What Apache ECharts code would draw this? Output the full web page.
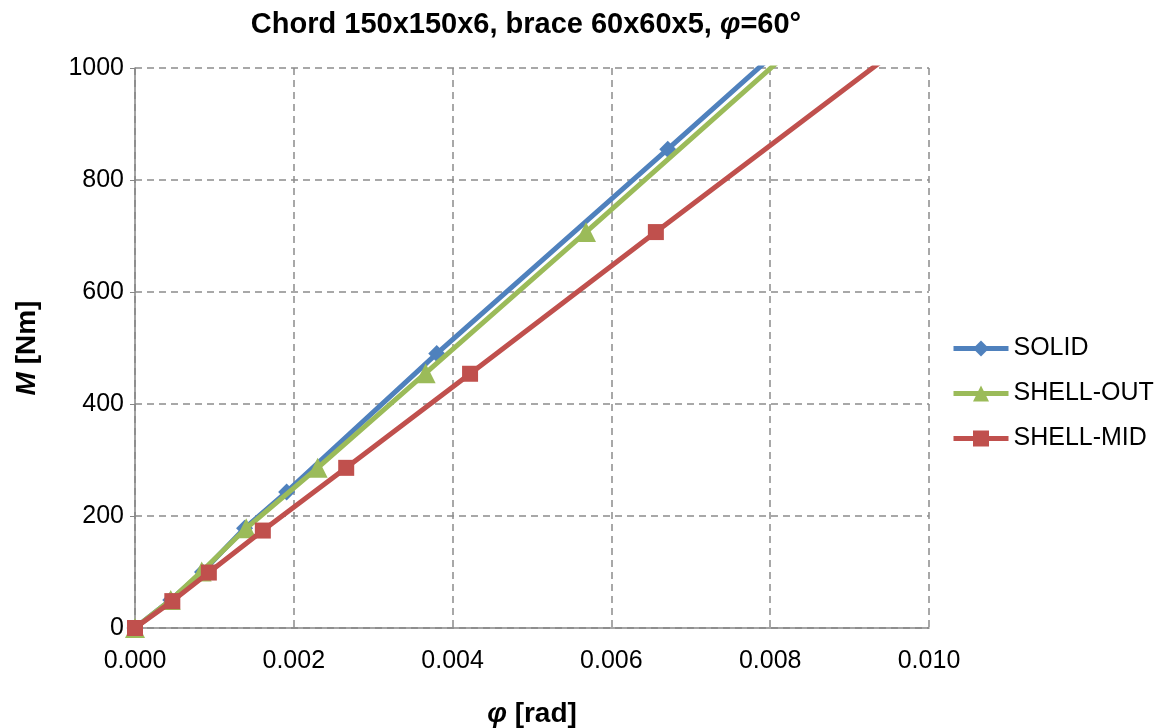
<!DOCTYPE html>
<html>
<head>
<meta charset="utf-8">
<script src="https://cdn.jsdelivr.net/npm/echarts@6/dist/echarts.min.js"></script>
<style>html,body{margin:0;padding:0;background:#fff;}#c{width:1173px;height:728px;}</style>
</head>
<body>
<div id="c"></div>
<script>
const seriesNames = ['SOLID', 'SHELL-OUT', 'SHELL-MID'];
const solidX = [0, 0.00045, 0.00085, 0.00138, 0.00191, 0.0038, 0.00671, 0.0090];
const solidY = [0, 50, 100, 178, 243, 490, 855, 1145];
const shellOutX = [0, 0.00045, 0.00084, 0.0014, 0.0023, 0.00366, 0.00568, 0.0092];
const shellOutY = [0, 50, 101, 178, 286, 455, 707, 1150];
const shellMidX = [0, 0.00047, 0.00093, 0.00161, 0.00266, 0.00422, 0.00656, 0.0105];
const shellMidY = [0, 48, 99, 174, 286, 454, 707, 1130];
const xTicks = [0, 0.002, 0.004, 0.006, 0.008, 0.010];
const yTicks = [0, 200, 400, 600, 800, 1000];
const colors = ['#4F81BD', '#9BBB59', '#C0504D'];
const symbols = ['diamond', 'triangle', 'rect'];
const symbolSizes = [17, 20, 16];

const pairs = (xs, ys) => xs.map((x, i) => [x, ys[i]]);
const dataSets = [pairs(solidX, solidY), pairs(shellOutX, shellOutY), pairs(shellMidX, shellMidY)];

const chart = echarts.init(document.getElementById('c'));
const font = 'Liberation Sans, Arial, sans-serif';
const rich = size => ({
  b: { fontSize: size, fontWeight: 'bold', color: '#000', fontFamily: font },
  bi: { fontSize: size, fontWeight: 'bold', fontStyle: 'italic', color: '#000', fontFamily: font }
});
chart.setOption({
  animation: false,
  textStyle: { fontFamily: font },
  title: {
    text: '{b|Chord 150x150x6, brace 60x60x5, }{bi|φ}{b|=60°}',
    left: 521, top: 5, textAlign: 'center',
    textStyle: { rich: rich(29) }
  },
  legend: {
    orient: 'vertical', left: 946, top: 331,
    itemWidth: 55, itemHeight: 20, itemGap: 20,
    lineStyle: { width: 5 },
    textStyle: { fontSize: 25, color: '#000', fontFamily: font },
    data: seriesNames
  },
  grid: { left: 135, top: 68, right: 244, bottom: 100, containLabel: false, outerBoundsMode: 'none' },
  xAxis: {
    type: 'value', min: 0, max: 0.010, interval: 0.002,
    name: '{bi|φ}{b| [rad]}', nameLocation: 'middle', nameGap: 72,
    nameTextStyle: { rich: rich(28) },
    axisLine: { show: true, lineStyle: { color: '#868686', width: 1.5 } },
    axisTick: { show: false },
    axisLabel: { fontSize: 25, color: '#000', margin: 21, formatter: v => v.toFixed(3) },
    splitLine: { show: true, lineStyle: { color: '#8c8c8c', type: [7, 5], width: 1.5 } }
  },
  yAxis: {
    type: 'value', min: 0, max: 1000, interval: 200,
    name: '{bi|M}{b| [Nm]}', nameLocation: 'middle', nameGap: 94, nameRotate: 90,
    nameTextStyle: { rich: rich(28) },
    axisLine: { show: true, lineStyle: { color: '#868686', width: 1.5 } },
    axisTick: { show: true, length: 5, lineStyle: { color: '#868686' } },
    axisLabel: { fontSize: 25, color: '#000', margin: 11, formatter: v => String(v) },
    splitLine: { show: true, lineStyle: { color: '#8c8c8c', type: [7, 5], width: 1.5 } }
  },
  series: seriesNames.map((n, i) => ({
    name: n, type: 'line', data: dataSets[i],
    clip: true,
    symbol: symbols[i], symbolSize: symbolSizes[i], showAllSymbol: true,
    itemStyle: { color: colors[i] },
    lineStyle: { color: colors[i], width: 5 },
    z: 2 + i
  }))
});
</script>
</body>
</html>
